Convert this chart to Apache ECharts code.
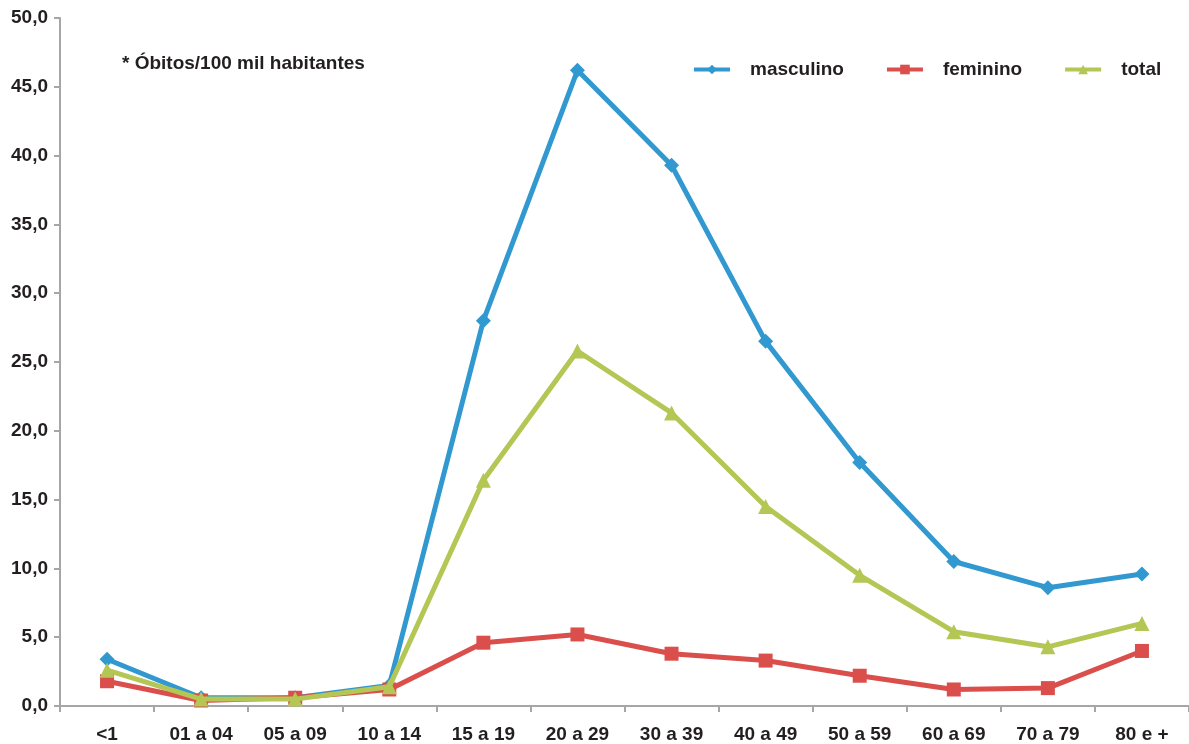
<!DOCTYPE html>
<html>
<head>
<meta charset="utf-8">
<script src="https://cdn.jsdelivr.net/npm/echarts@6/dist/echarts.min.js"></script>
<style>
  html, body { margin: 0; padding: 0; background: #ffffff; }
  #chart { width: 1189px; height: 744px; }
</style>
</head>
<body>
<div id="chart"></div>
<script>
// Faixas etárias
const categories = ['<1', '01 a 04', '05 a 09', '10 a 14', '15 a 19', '20 a 29', '30 a 39', '40 a 49', '50 a 59', '60 a 69', '70 a 79', '80 e +'];

// Óbitos por 100 mil habitantes
const masculino = [3.4, 0.6, 0.6, 1.5, 28.0, 46.2, 39.3, 26.5, 17.7, 10.5, 8.6, 9.6];
const feminino  = [1.8, 0.4, 0.6, 1.2, 4.6, 5.2, 3.8, 3.3, 2.2, 1.2, 1.3, 4.0];
const total     = [2.6, 0.5, 0.5, 1.4, 16.4, 25.8, 21.3, 14.5, 9.5, 5.4, 4.3, 6.0];

const seriesNames = ['masculino', 'feminino', 'total'];
const colors = ['#3199d0', '#da4f4c', '#b4c653'];
const symbols = ['diamond', 'rect', 'triangle'];
const symbolSizes = [15, 14, 15];

const FONT = '"Liberation Sans", Arial, sans-serif';
const TEXT = '#231f20';
const AXIS = '#a6a6a6';
const FS = 19;

const chart = echarts.init(document.getElementById('chart'), null, { renderer: 'canvas' });

const data = [masculino, feminino, total];

chart.setOption({
  animation: false,
  backgroundColor: '#ffffff',
  grid: { left: 60, top: 18, width: 1137, height: 691, containLabel: false },
  legend: {
    left: 692,
    top: 60,
    padding: 0,
    itemWidth: 36,
    itemHeight: 12,
    itemGap: 41,
    data: seriesNames,
    lineStyle: { width: 4 },
    textStyle: { fontFamily: FONT, fontWeight: 'bold', fontSize: FS, color: TEXT, padding: [0, 0, 0, 15] }
  },
  graphic: [{
    type: 'text',
    left: 122,
    top: 54,
    style: { text: '* Óbitos/100 mil habitantes', font: 'bold ' + FS + 'px ' + FONT, fill: TEXT }
  }],
  xAxis: {
    type: 'category',
    data: categories,
    boundaryGap: true,
    axisLine: { lineStyle: { color: AXIS, width: 2 } },
    axisTick: { show: true, alignWithLabel: false, length: 6, lineStyle: { color: AXIS, width: 2 } },
    axisLabel: { fontFamily: FONT, fontWeight: 'bold', fontSize: FS, color: TEXT, margin: 19, interval: 0 },
    splitLine: { show: false }
  },
  yAxis: {
    type: 'value',
    min: 0,
    max: 50,
    interval: 5,
    axisLine: { show: true, lineStyle: { color: AXIS, width: 2 } },
    axisTick: { show: true, length: 6, lineStyle: { color: AXIS, width: 2 } },
    axisLabel: {
      fontFamily: FONT, fontWeight: 'bold', fontSize: FS, color: TEXT, margin: 12,
      formatter: v => v.toFixed(1).replace('.', ',')
    },
    splitLine: { show: false }
  },
  series: seriesNames.map((name, i) => ({
    name,
    type: 'line',
    data: data[i],
    symbol: symbols[i],
    symbolSize: symbolSizes[i],
    showAllSymbol: true,
    lineStyle: { color: colors[i], width: 5 },
    itemStyle: { color: colors[i] },
    z: 2 + i
  }))
});
</script>
</body>
</html>
